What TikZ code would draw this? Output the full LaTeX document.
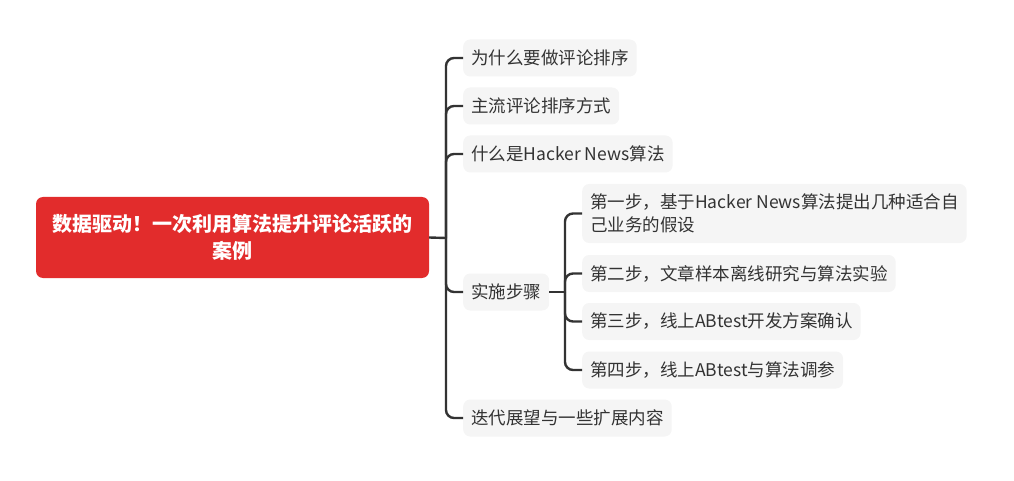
\documentclass[tikz,border=0pt]{standalone}
\usepackage{fontspec}
\setmainfont{Noto Sans CJK SC}
\definecolor{rootred}{HTML}{E22C2C}
\definecolor{boxgray}{HTML}{F5F5F5}
\definecolor{inkgray}{HTML}{333333}
\tikzset{
  topic/.style={fill=rootred, text=white, rounded corners=7pt, align=center,
    font=\fontsize{20}{27}\selectfont\bfseries, inner sep=0pt,
    minimum width=393pt, minimum height=81pt},
  leaf/.style={fill=boxgray, text=inkgray, rounded corners=7pt, anchor=west,
    font=\fontsize{17.5}{23}\selectfont, inner xsep=8pt, minimum height=37pt},
  link/.style={draw=inkgray, line width=2.4pt, rounded corners=8pt}
}
\begin{document}
\begin{tikzpicture}[x=1pt,y=-1pt]
	\useasboundingbox (0,0) rectangle (1014,481);
	\node[topic] (root) at (232.5,237.5) {数据驱动！一次利用算法提升评论活跃的\\案例};
	\coordinate (hub) at (446,238);
	\node[leaf] (why)   at (463,58)  {为什么要做评论排序};
	\node[leaf] (ways)  at (463,106) {主流评论排序方式};
	\node[leaf] (hn)    at (463,154) {什么是Hacker News算法};
	\node[leaf] (steps) at (463,292) {实施步骤};
	\node[leaf] (next)  at (463,418) {迭代展望与一些扩展内容};
	\coordinate (subhub) at (565,292);
	\node[leaf, align=left, minimum height=59pt] (s1) at (582,213.5) {第一步，基于Hacker News算法提出几种适合自\\己业务的假设};
	\node[leaf] (s2) at (582,273.5) {第二步，文章样本离线研究与算法实验};
	\node[leaf] (s3) at (582,321.5) {第三步，线上ABtest开发方案确认};
	\node[leaf] (s4) at (582,370)   {第四步，线上ABtest与算法调参};
	\draw[link] (root.east) -- (hub);
	\foreach \n in {why,ways,hn,steps,next}
		\draw[link] (hub) |- (\n.west);
	\draw[link] (steps.east) -- (subhub);
	\foreach \n in {s1,s2,s3,s4}
		\draw[link] (subhub) |- (\n.west);
\end{tikzpicture}
\end{document}
